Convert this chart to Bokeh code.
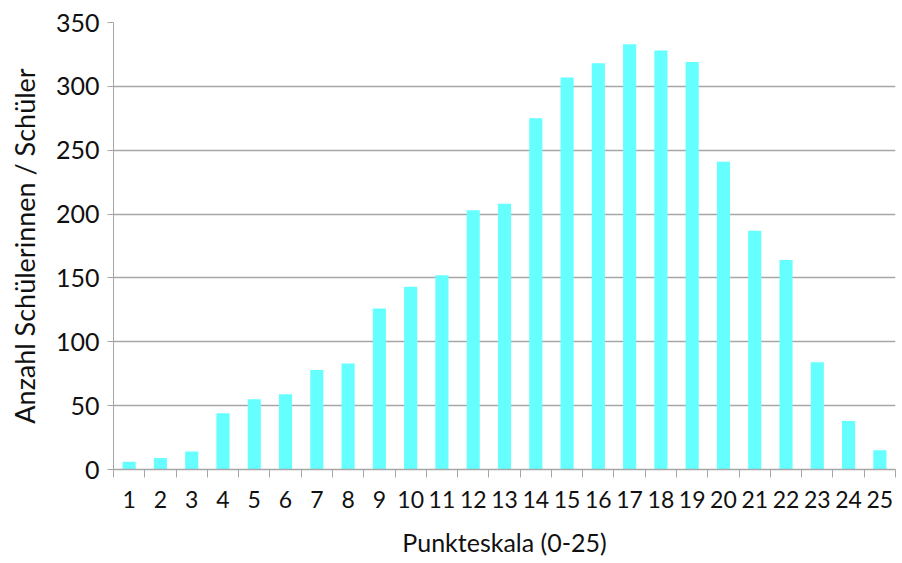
from bokeh.plotting import figure
from bokeh.models import FixedTicker, Range1d
from bokeh.embed import file_html
from bokeh.resources import INLINE

points = list(range(1, 26))
counts = [6, 9, 14, 44, 55, 59, 78, 83, 126, 143, 152, 203, 208, 275, 307,
          318, 333, 328, 319, 241, 187, 164, 84, 38, 15]
y_ticks = [0, 50, 100, 150, 200, 250, 300, 350]
x_label = "Punkteskala (0-25)"
y_label = "Anzahl Schülerinnen / Schüler"

FONT = "Lato"
TXT = "#111111"
GRID = "#a6a6a6"

p = figure(width=896, height=559, output_backend="svg", toolbar_location=None,
           x_range=Range1d(0.5, 25.5), y_range=Range1d(0, 350),
           min_border_left=113, min_border_right=1, min_border_top=22,
           min_border_bottom=90)
p.outline_line_color = None
p.background_fill_color = "white"

p.vbar(x=points, top=counts, width=0.42, fill_color="#66ffff", line_color=None)

p.xgrid.grid_line_color = None
p.ygrid.grid_line_color = GRID
p.ygrid.grid_line_width = 1.3
p.ygrid.ticker = FixedTicker(ticks=y_ticks)

p.yaxis.ticker = FixedTicker(ticks=y_ticks)
p.yaxis.axis_line_color = GRID
p.yaxis.major_tick_line_color = GRID
p.yaxis.major_tick_out = 6
p.yaxis.major_tick_in = 0
p.yaxis.minor_tick_line_color = None
p.yaxis.major_label_text_font = FONT
p.yaxis.major_label_text_font_size = "25px"
p.yaxis.major_label_text_color = TXT
p.yaxis.major_label_standoff = 8
p.yaxis.axis_label = y_label
p.yaxis.axis_label_text_font = FONT
p.yaxis.axis_label_text_font_size = "27px"
p.yaxis.axis_label_text_font_style = "normal"
p.yaxis.axis_label_text_color = TXT
p.yaxis.axis_label_standoff = 12

p.xaxis.ticker = FixedTicker(ticks=points, minor_ticks=[i + 0.5 for i in range(0, 26)])
p.xaxis.axis_line_color = GRID
p.xaxis.axis_line_width = 1.3
p.xaxis.major_tick_line_color = None
p.xaxis.minor_tick_line_color = GRID
p.xaxis.minor_tick_out = 8
p.xaxis.minor_tick_in = 0
p.xaxis.major_label_text_font = FONT
p.xaxis.major_label_text_font_size = "23px"
p.xaxis.major_label_text_color = TXT
p.xaxis.major_label_standoff = 13
p.xaxis.axis_label = x_label
p.xaxis.axis_label_text_font = FONT
p.xaxis.axis_label_text_font_size = "25px"
p.xaxis.axis_label_text_font_style = "normal"
p.xaxis.axis_label_text_color = TXT
p.xaxis.axis_label_standoff = 16

open("out.html", "w").write(file_html(p, INLINE))
